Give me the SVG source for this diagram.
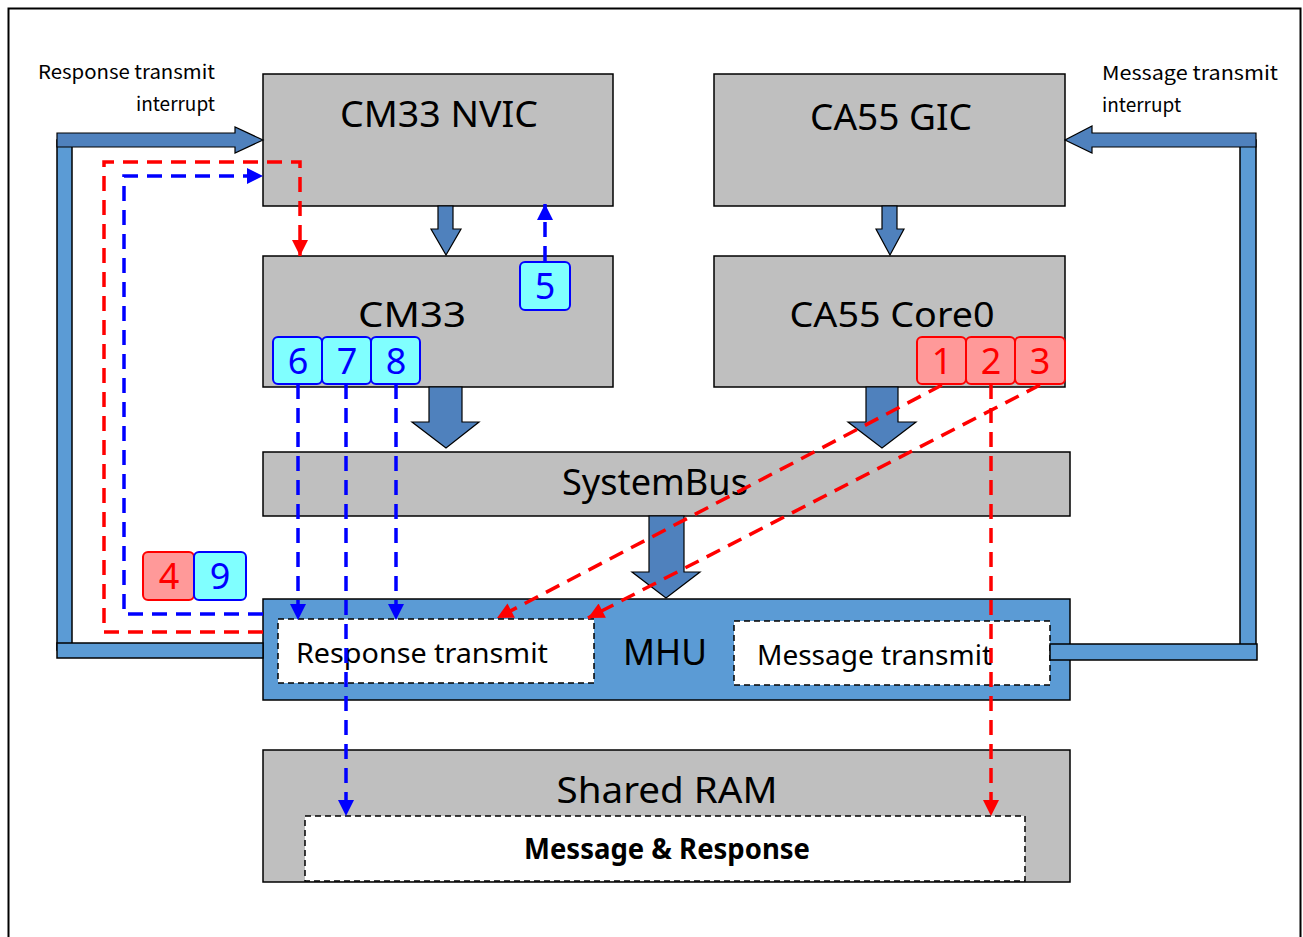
<svg xmlns="http://www.w3.org/2000/svg" width="1303" height="937" viewBox="0 0 1303 937">
<style>
.box{fill:#bfbfbf;stroke:#000;stroke-width:1.5}
.mhu{fill:#5b9bd5;stroke:#000;stroke-width:1.5}
.inner{fill:#fff;stroke:#000;stroke-width:1.5;stroke-dasharray:6,4}
.ba{fill:#4f81bd;stroke:#000;stroke-width:1.2}
.pipe{fill:#5b9bd5;stroke:#000;stroke-width:1.5}
.t{font-family:"Noto Sans","Open Sans",sans-serif;fill:#000}
.lbl{font-family:"Noto Sans CJK JP","Noto Sans",sans-serif;fill:#000;font-size:19px}
.nb{fill:#80ffff;stroke:#0000ff;stroke-width:2}
.nr{fill:#ff9999;stroke:#ff0000;stroke-width:2}
.nt{font-family:"Noto Sans","Open Sans",sans-serif;font-size:36px;text-anchor:middle}
.db{fill:none;stroke:#0000ff;stroke-width:3.5;stroke-dasharray:15,9}
.dr{fill:none;stroke:#ff0000;stroke-width:3.5;stroke-dasharray:15,9}
</style>
<defs>
<marker id="ab" viewBox="0 0 10 10" refX="10" refY="5" markerWidth="18" markerHeight="16" markerUnits="userSpaceOnUse" orient="auto"><path d="M0,0 L10,5 L0,10 z" fill="#0000ff"/></marker>
<marker id="ar" viewBox="0 0 10 10" refX="10" refY="5" markerWidth="18" markerHeight="16" markerUnits="userSpaceOnUse" orient="auto"><path d="M0,0 L10,5 L0,10 z" fill="#ff0000"/></marker>
</defs>
<rect x="0" y="0" width="1303" height="937" fill="#fff"/>
<rect x="8.5" y="8.5" width="1292" height="960" fill="none" stroke="#000" stroke-width="2"/>

<g id="cm33nvic"><rect class="box" x="263" y="74" width="350" height="132"/><text class="t" x="439" y="127" font-size="37" text-anchor="middle" textLength="198" lengthAdjust="spacingAndGlyphs">CM33 NVIC</text></g>
<g id="ca55gic"><rect class="box" x="714" y="74" width="351" height="132"/><text class="t" x="891" y="130" font-size="37" text-anchor="middle" textLength="162" lengthAdjust="spacingAndGlyphs">CA55 GIC</text></g>
<g id="cm33"><rect class="box" x="263" y="256" width="350" height="131"/><text class="t" x="412" y="327" font-size="34" text-anchor="middle" textLength="108" lengthAdjust="spacingAndGlyphs">CM33</text></g>
<g id="ca55core0"><rect class="box" x="714" y="256" width="351" height="131"/><text class="t" x="892" y="327" font-size="34" text-anchor="middle" textLength="205" lengthAdjust="spacingAndGlyphs">CA55 Core0</text></g>
<g id="systembus"><rect class="box" x="263" y="452" width="807" height="64"/><text class="t" x="655" y="495" font-size="37" text-anchor="middle" textLength="186" lengthAdjust="spacingAndGlyphs">SystemBus</text></g>
<g id="mhu"><rect class="mhu" x="263" y="599" width="807" height="101"/><text class="t" x="665" y="665" font-size="37" text-anchor="middle" textLength="84" lengthAdjust="spacingAndGlyphs">MHU</text>
<rect class="inner" x="278" y="619" width="316" height="64"/><text class="t" x="296" y="663" font-size="28" textLength="252" lengthAdjust="spacingAndGlyphs">Response transmit</text>
<rect class="inner" x="734" y="621" width="316" height="64"/><text class="t" x="757" y="665" font-size="28" textLength="235" lengthAdjust="spacingAndGlyphs">Message transmit</text></g>
<g id="sharedram"><rect class="box" x="263" y="750" width="807" height="132"/><text class="t" x="667" y="803" font-size="37" text-anchor="middle" textLength="221" lengthAdjust="spacingAndGlyphs">Shared RAM</text>
<rect class="inner" x="305" y="816" width="720" height="65"/><text class="t" x="667" y="859" font-size="28" font-weight="bold" text-anchor="middle" textLength="286" lengthAdjust="spacingAndGlyphs">Message &amp; Response</text></g>

<g id="blockarrows">
<path class="ba" d="M438,206 H453 V229 H461 L446,255 L431,229 H438 Z"/>
<path class="ba" d="M882,206 H897 V229 H904 L890,255 L876,229 H882 Z"/>
<path class="ba" d="M429,387 H462 V422 H479 L446,448 L412,422 H429 Z"/>
<path class="ba" d="M866,387 H898 V422 H916 L882,448 L848,422 H866 Z"/>
<path class="ba" d="M649,516 H684 V572 H700 L666,598 L632,572 H649 Z"/>
</g>

<g id="pipes">
<rect class="pipe" x="57" y="140" width="15" height="510"/>
<rect class="pipe" x="57" y="643" width="206" height="15"/>
<path class="ba" d="M57,133 H235 V127 L263,140 L235,153 V147 H57 Z" stroke-width="1.5"/>
<rect class="pipe" x="1240" y="140" width="16" height="512"/>
<rect class="pipe" x="1050" y="644" width="207" height="16"/>
<path class="ba" d="M1256,133 H1092 V126 L1065,140 L1092,153 V147 H1256 Z" stroke-width="1.5"/>
</g>

<g id="labels">
<text class="lbl" x="215" y="79" text-anchor="end" textLength="177" lengthAdjust="spacingAndGlyphs">Response transmit</text>
<text class="lbl" x="215" y="111" text-anchor="end">interrupt</text>
<text class="lbl" x="1102" y="80" textLength="176" lengthAdjust="spacingAndGlyphs">Message transmit</text>
<text class="lbl" x="1102" y="112">interrupt</text>
</g>

<g id="connectors">
<path class="dr" d="M263,632 H104 V162 H300 V256" marker-end="url(#ar)"/>
<path class="db" d="M263,614 H124 V176 H263" marker-end="url(#ab)"/>
<path class="db" d="M545,261 V204" marker-end="url(#ab)"/>
<path class="db" d="M298,384 V620" marker-end="url(#ab)"/>
<path class="db" d="M396,384 V620" marker-end="url(#ab)"/>
<path class="db" d="M346,384 V816" marker-end="url(#ab)"/>
<path class="dr" d="M991,384 V816" marker-end="url(#ar)"/>
<path class="dr" d="M942,385 L497,618" marker-end="url(#ar)"/>
<path class="dr" d="M1040,385 L588,618" marker-end="url(#ar)"/>
</g>

<g id="n5"><rect class="nb" x="520" y="262" width="50" height="48" rx="5"/><text class="nt" x="545" y="299" fill="#0000ff">5</text></g>
<g id="n6"><rect class="nb" x="273" y="337" width="49" height="47" rx="5"/><text class="nt" x="298" y="374" fill="#0000ff">6</text></g>
<g id="n7"><rect class="nb" x="322" y="337" width="49" height="47" rx="5"/><text class="nt" x="347" y="374" fill="#0000ff">7</text></g>
<g id="n8"><rect class="nb" x="371" y="337" width="49" height="47" rx="5"/><text class="nt" x="396" y="374" fill="#0000ff">8</text></g>
<g id="n1"><rect class="nr" x="917" y="337" width="49" height="47" rx="5"/><text class="nt" x="942" y="374" fill="#ff0000">1</text></g>
<g id="n2"><rect class="nr" x="966" y="337" width="49" height="47" rx="5"/><text class="nt" x="991" y="374" fill="#ff0000">2</text></g>
<g id="n3"><rect class="nr" x="1015" y="337" width="50" height="47" rx="5"/><text class="nt" x="1040" y="374" fill="#ff0000">3</text></g>
<g id="n4"><rect class="nr" x="143" y="552" width="51" height="48" rx="5"/><text class="nt" x="169" y="589" fill="#ff0000">4</text></g>
<g id="n9"><rect class="nb" x="194" y="552" width="52" height="48" rx="5"/><text class="nt" x="220" y="589" fill="#0000ff">9</text></g>
</svg>
